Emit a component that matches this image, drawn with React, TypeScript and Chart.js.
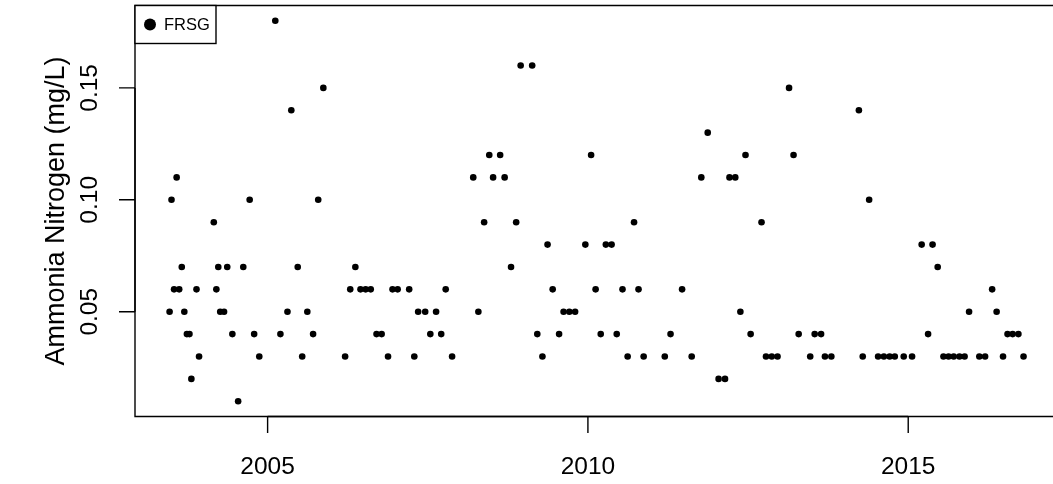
import React, { useEffect, useRef } from "react";
import { Chart, registerables } from "chart.js";

Chart.register(...registerables);

const seriesName = "FRSG";
const yAxisTitle = "Ammonia Nitrogen (mg/L)";

// decimal-year sample dates
const sampleDates = [
  2003.47, 2003.50, 2003.54, 2003.58, 2003.62, 2003.66, 2003.70, 2003.74, 2003.78, 2003.81,
  2003.89, 2003.93, 2004.16, 2004.20, 2004.23, 2004.26, 2004.32, 2004.37, 2004.45, 2004.54,
  2004.62, 2004.72, 2004.79, 2004.87, 2005.12, 2005.20, 2005.31, 2005.37, 2005.47, 2005.54,
  2005.62, 2005.71, 2005.79, 2005.87, 2006.21, 2006.29, 2006.37, 2006.45, 2006.53, 2006.61,
  2006.70, 2006.78, 2006.88, 2006.95, 2007.03, 2007.21, 2007.29, 2007.35, 2007.46, 2007.54,
  2007.63, 2007.71, 2007.78, 2007.88, 2008.21, 2008.29, 2008.38, 2008.46, 2008.52, 2008.63,
  2008.70, 2008.80, 2008.88, 2008.95, 2009.13, 2009.21, 2009.29, 2009.37, 2009.45, 2009.55,
  2009.62, 2009.71, 2009.80, 2009.96, 2010.05, 2010.12, 2010.20, 2010.28, 2010.37, 2010.45,
  2010.54, 2010.62, 2010.72, 2010.79, 2010.87, 2011.20, 2011.29, 2011.47, 2011.62, 2011.77,
  2011.87, 2012.04, 2012.14, 2012.21, 2012.30, 2012.38, 2012.46, 2012.54, 2012.71, 2012.78,
  2012.87, 2012.96, 2013.14, 2013.21, 2013.29, 2013.47, 2013.54, 2013.64, 2013.70, 2013.80,
  2014.23, 2014.29, 2014.39, 2014.53, 2014.62, 2014.71, 2014.79, 2014.93, 2015.06, 2015.21,
  2015.31, 2015.38, 2015.46, 2015.55, 2015.63, 2015.71, 2015.80, 2015.88, 2015.95, 2016.11,
  2016.20, 2016.31, 2016.38, 2016.48, 2016.55, 2016.63, 2016.72, 2016.80,
];

// ammonia nitrogen (mg/L)
const ammoniaValues = [
  0.05, 0.10, 0.06, 0.11, 0.06, 0.07, 0.05, 0.04, 0.04, 0.02,
  0.06, 0.03, 0.09, 0.06, 0.07, 0.05, 0.05, 0.07, 0.04, 0.01,
  0.07, 0.10, 0.04, 0.03, 0.18, 0.04, 0.05, 0.14, 0.07, 0.03,
  0.05, 0.04, 0.10, 0.15, 0.03, 0.06, 0.07, 0.06, 0.06, 0.06,
  0.04, 0.04, 0.03, 0.06, 0.06, 0.06, 0.03, 0.05, 0.05, 0.04,
  0.05, 0.04, 0.06, 0.03, 0.11, 0.05, 0.09, 0.12, 0.11, 0.12,
  0.11, 0.07, 0.09, 0.16, 0.16, 0.04, 0.03, 0.08, 0.06, 0.04,
  0.05, 0.05, 0.05, 0.08, 0.12, 0.06, 0.04, 0.08, 0.08, 0.04,
  0.06, 0.03, 0.09, 0.06, 0.03, 0.03, 0.04, 0.06, 0.03, 0.11,
  0.13, 0.02, 0.02, 0.11, 0.11, 0.05, 0.12, 0.04, 0.09, 0.03,
  0.03, 0.03, 0.15, 0.12, 0.04, 0.03, 0.04, 0.04, 0.03, 0.03,
  0.14, 0.03, 0.10, 0.03, 0.03, 0.03, 0.03, 0.03, 0.03, 0.08,
  0.04, 0.08, 0.07, 0.03, 0.03, 0.03, 0.03, 0.03, 0.05, 0.03,
  0.03, 0.06, 0.05, 0.03, 0.04, 0.04, 0.04, 0.03,
];

const xTickValues = [2005, 2010, 2015];
const xTickLabels = ["2005", "2010", "2015"];
const yTickValues = [0.05, 0.1, 0.15];
const yTickLabels = ["0.05", "0.10", "0.15"];

const X_MIN = 2002.93;
const X_MAX = 2017.26;
const Y_MIN = 0.0032;
const Y_MAX = 0.1868;

const FONT = '"Liberation Sans", Arial, Helvetica, sans-serif';
const W = 1053;
const H = 484;
const AREA_LEFT = 135;
const AREA_TOP = 5.5;
const AREA_BOTTOM = 416.5;

const rStylePlugin = {
  id: "rStyle",
  afterDatasetsDraw(chart: any) {
    const ctx = chart.ctx as CanvasRenderingContext2D;
    const xs = chart.scales.x;
    const ys = chart.scales.y;
    const area = chart.chartArea;
    ctx.save();
    ctx.strokeStyle = "#000";
    ctx.fillStyle = "#000";
    ctx.lineWidth = 1.4;

    // box (right side lies beyond the canvas)
    ctx.beginPath();
    ctx.moveTo(W + 5, area.top);
    ctx.lineTo(area.left, area.top);
    ctx.lineTo(area.left, area.bottom);
    ctx.lineTo(W + 5, area.bottom);
    ctx.stroke();

    // x axis
    const x0 = xs.getPixelForValue(xTickValues[0]);
    const x1 = xs.getPixelForValue(xTickValues[xTickValues.length - 1]);
    ctx.beginPath();
    ctx.moveTo(x0, area.bottom);
    ctx.lineTo(x1, area.bottom);
    xTickValues.forEach((v) => {
      const px = xs.getPixelForValue(v);
      ctx.moveTo(px, area.bottom);
      ctx.lineTo(px, area.bottom + 16.5);
    });
    ctx.stroke();
    ctx.font = `24.5px ${FONT}`;
    ctx.textAlign = "center";
    ctx.textBaseline = "alphabetic";
    xTickValues.forEach((v, i) => {
      const px = xs.getPixelForValue(v);
      ctx.fillText(xTickLabels[i], px, 474);
    });

    // y axis
    const y0 = ys.getPixelForValue(yTickValues[0]);
    const y1 = ys.getPixelForValue(yTickValues[yTickValues.length - 1]);
    ctx.beginPath();
    ctx.moveTo(area.left, y0);
    ctx.lineTo(area.left, y1);
    yTickValues.forEach((v) => {
      const py = ys.getPixelForValue(v);
      ctx.moveTo(area.left, py);
      ctx.lineTo(area.left - 16, py);
    });
    ctx.stroke();
    yTickValues.forEach((v, i) => {
      const py = ys.getPixelForValue(v);
      ctx.save();
      ctx.translate(96.5, py);
      ctx.rotate(-Math.PI / 2);
      ctx.fillText(yTickLabels[i], 0, 0);
      ctx.restore();
    });

    // y title
    ctx.save();
    ctx.font = `27px ${FONT}`;
    ctx.translate(64, (area.top + area.bottom) / 2);
    ctx.rotate(-Math.PI / 2);
    ctx.fillText(yAxisTitle, 0, 0);
    ctx.restore();

    // legend
    const lx = area.left;
    const ly = area.top;
    const lw = 81;
    const lh = 38;
    ctx.fillStyle = "#fff";
    ctx.fillRect(lx, ly, lw, lh);
    ctx.strokeRect(lx, ly, lw, lh);
    ctx.fillStyle = "#000";
    ctx.beginPath();
    ctx.arc(lx + 15, ly + 19, 6, 0, Math.PI * 2);
    ctx.fill();
    ctx.font = `16.5px ${FONT}`;
    ctx.textAlign = "left";
    ctx.textBaseline = "middle";
    ctx.fillText(seriesName, lx + 29, ly + 19.5);

    ctx.restore();
  },
};

export default function App() {
  const canvasRef = useRef<HTMLCanvasElement | null>(null);

  useEffect(() => {
    const canvas = canvasRef.current;
    if (!canvas) return;
    const chart = new Chart(canvas, {
      type: "scatter",
      data: {
        datasets: [
          {
            label: seriesName,
            data: sampleDates.map((x, i) => ({ x, y: ammoniaValues[i] })),
            pointRadius: 3.3,
            pointHoverRadius: 3.3,
            pointBackgroundColor: "#000",
            pointBorderWidth: 0,
            showLine: false,
          },
        ],
      },
      options: {
        animation: false,
        responsive: false,
        events: [],
        layout: {
          autoPadding: false,
          padding: { top: AREA_TOP, left: 0, right: 0, bottom: 0 },
        },
        plugins: {
          legend: { display: false },
          tooltip: { enabled: false },
        },
        scales: {
          x: {
            type: "linear",
            min: X_MIN,
            max: X_MAX,
            ticks: { display: false },
            grid: { display: false },
            border: { display: false },
            afterFit: (s: any) => {
              s.height = H - AREA_BOTTOM;
            },
          },
          y: {
            type: "linear",
            min: Y_MIN,
            max: Y_MAX,
            ticks: { display: false },
            grid: { display: false },
            border: { display: false },
            afterFit: (s: any) => {
              s.width = AREA_LEFT;
            },
          },
        },
      },
      plugins: [rStylePlugin],
    });
    return () => chart.destroy();
  }, []);

  return (
    <div
      style={{
        position: "absolute",
        left: 0,
        top: 0,
        width: W,
        height: H,
        background: "#fff",
        overflow: "hidden",
      }}
    >
      <canvas ref={canvasRef} width={W} height={H} style={{ display: "block" }} />
    </div>
  );
}
